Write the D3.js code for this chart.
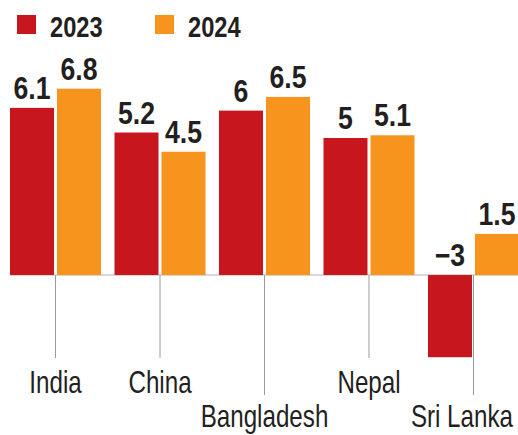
<!DOCTYPE html>
<html lang="en">
<head>
<meta charset="UTF-8">
<title>GDP growth</title>
<script src="https://cdn.jsdelivr.net/npm/d3@7"></script>
<style>
  body { margin: 0; background: #fff; }
  svg { display: block; }
  text { font-family: "Liberation Sans", Arial, sans-serif; fill: #231f20; }
</style>
</head>
<body>
<svg id="chart" width="518" height="435"></svg>
<script>
// data
const countries = ["India", "China", "Bangladesh", "Nepal", "Sri Lanka"];
const years = ["2023", "2024"];
const values2023 = [6.1, 5.2, 6, 5, -3];
const values2024 = [6.8, 4.5, 6.5, 5.1, 1.5];
const colors = ["#c8161e", "#f7941d"];

const rows = countries.map((c, i) => ({
  country: c,
  vals: [
    { year: years[0], v: values2023[i] },
    { year: years[1], v: values2024[i] }
  ]
}));

const W = 518;
const svg = d3.select("#chart");

const x = d3.scaleBand().domain(countries).range([10, 519]).paddingInner(0.129).paddingOuter(0);
const xi = d3.scaleBand().domain(years).range([0, x.bandwidth()]).paddingInner(0.064);
const y = d3.scaleLinear().domain([-3, 6.8]).range([357.2, 88.7]);
const color = d3.scaleOrdinal().domain(years).range(colors);

// countries whose label sits lower
const dropped = new Set(["Bangladesh", "Sri Lanka"]);

// narrow type: squeeze horizontally
const squeeze = (px, py, s) => `translate(${px},${py}) scale(${s},1)`;

// legend
const leg = svg.append("g").selectAll("g").data(years).join("g")
  .attr("transform", (d, i) => `translate(${17 + i * 138},15)`);
leg.append("rect").attr("width", 19).attr("height", 19).attr("fill", d => color(d));
leg.append("text").attr("transform", squeeze(33, 22, 0.79))
  .style("font-size", "30px").style("font-weight", "bold").text(d => d);

// tick lines under each group
svg.append("g").selectAll("line").data(countries).join("line")
  .attr("x1", d => x(d) + x.bandwidth() / 2)
  .attr("x2", d => x(d) + x.bandwidth() / 2)
  .attr("y1", y(0))
  .attr("y2", d => dropped.has(d) ? 395 : 358)
  .attr("stroke", "#9a9a9a").attr("stroke-width", 1);

// zero line
svg.append("line").attr("x1", 10).attr("x2", W).attr("y1", y(0)).attr("y2", y(0))
  .attr("stroke", "#b0b0b0").attr("stroke-width", 1);

const g = svg.append("g").selectAll("g").data(rows).join("g")
  .attr("transform", d => `translate(${x(d.country)},0)`);

g.selectAll("rect").data(d => d.vals).join("rect")
  .attr("x", d => xi(d.year))
  .attr("width", xi.bandwidth())
  .attr("y", d => y(Math.max(0, d.v)))
  .attr("height", d => Math.abs(y(d.v) - y(0)))
  .attr("fill", d => color(d.year));

g.selectAll("text.val").data(d => d.vals).join("text")
  .attr("class", "val")
  .attr("transform", d => squeeze(xi(d.year) + xi.bandwidth() / 2, (d.v < 0 ? y(0) : y(d.v)) - 9, 0.86))
  .attr("text-anchor", "middle")
  .style("font-size", "31px").style("font-weight", "bold")
  .text(d => d.v < 0 ? "\u2212" + Math.abs(d.v) : d.v);

// country labels, kept inside the right edge
const sx = 0.78;
svg.append("g").selectAll("text").data(countries).join("text")
  .attr("text-anchor", "middle")
  .style("font-size", "31px")
  .text(d => d)
  .attr("transform", function(d) {
    const half = this.getComputedTextLength() * sx / 2;
    const cx = Math.min(x(d) + x.bandwidth() / 2, W - 5 - half);
    return squeeze(cx, dropped.has(d) ? 427 : 393, sx);
  });
</script>
</body>
</html>
